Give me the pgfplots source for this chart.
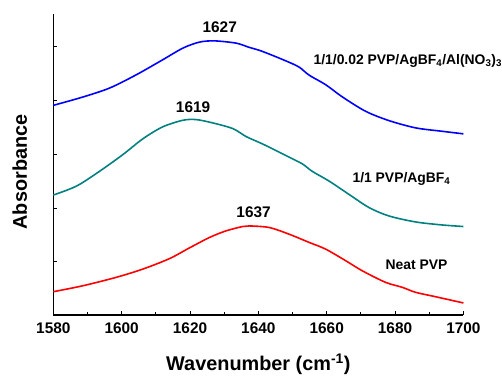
\documentclass[border=0pt]{standalone}
\usepackage{pgfplots}
\pgfplotsset{compat=1.18}
\usepackage{fontspec}
\setmainfont{Liberation Sans}
\definecolor{cblue}{RGB}{0,0,255}
\definecolor{cteal}{RGB}{0,128,128}
\definecolor{cred}{RGB}{255,0,0}
\begin{document}
\begin{tikzpicture}
\begin{axis}[
 scale only axis, width=411.5bp, height=302bp,
 xmin=1580, xmax=1700, ymin=0, ymax=302,
 axis x line*=bottom, axis y line*=left,
 axis line style={line width=1.2bp, black},
 xtick={1580,1600,...,1700}, minor x tick num=1,
 ytick={54,107,161,215,269}, yticklabels={},
 tick align=inside, major tick length=4bp, minor tick length=3bp,
 tick style={line width=1bp, black},
 /pgf/number format/assume math mode=true,
 /pgf/number format/1000 sep={},
 xticklabel style={font=\bfseries\fontsize{15.5}{18}\selectfont, yshift=-4bp},
 xlabel={\bfseries Wavenumber (cm\textsuperscript{-1})},
 xlabel style={font=\bfseries\fontsize{20}{24}\selectfont, at={(rel axis cs:0.5,0)}, anchor=base, yshift=-56bp},
 ylabel={\bfseries Absorbance},
 ylabel style={font=\bfseries\fontsize{20}{24}\selectfont, at={(rel axis cs:0,0.475)}, anchor=base, yshift=26.5bp},
 every axis plot/.append style={line width=1.6bp, smooth, tension=0.5},
 clip=false,
]
\addplot[cblue] coordinates {
(1580,210.3) (1588.7,218.7) (1596.5,227.7) (1604.3,241) (1612.0,256) (1617.9,267.7)
(1622.7,273.7) (1627.1,275) (1633.5,272.7) (1637.3,268.5) (1640.3,265.5) (1644.1,260.5)
(1649.0,253.5) (1652.0,248.5) (1654.9,240.5) (1659.7,231) (1664.6,218.7) (1671.4,204.3)
(1678.2,195) (1686.0,187.7) (1693.7,184.3) (1700,181.7)};
\addplot[cteal] coordinates {
(1580,120.3) (1586.8,129.3) (1593.6,144.3) (1600.4,161) (1606.2,176.7) (1612.0,188.7)
(1617.9,195.3) (1621.8,196) (1626.6,192.7) (1632.5,187) (1636.4,179) (1640.3,173)
(1643.2,168.3) (1649.0,158.3) (1652.9,151.5) (1655.8,144) (1660.7,134.3) (1666.5,121)
(1672.4,107.7) (1678.2,99.3) (1686.0,93.3) (1693.7,90.3) (1700,88.7)};
\addplot[cred] coordinates {
(1580,23.3) (1588.7,29.3) (1598.4,37.7) (1606.2,46) (1614.0,56.5) (1619.8,67.2)
(1625.7,77.7) (1630.5,84.3) (1635.4,88.7) (1637.4,89.3) (1643.2,87.7) (1649.0,81)
(1654.9,72.7) (1659.7,66) (1665.6,54.3) (1670.4,44.3) (1677.2,32.7) (1682.1,27.7)
(1686.0,22.7) (1691.8,18.3) (1700,12)};
\node[font=\bfseries\fontsize{15.5}{18}\selectfont, inner sep=0] at (axis cs:1628.7,288.5) {1627};
\node[font=\bfseries\fontsize{15.5}{18}\selectfont, inner sep=0] at (axis cs:1620.9,208.5) {1619};
\node[font=\bfseries\fontsize{15.5}{18}\selectfont, inner sep=0] at (axis cs:1638.6,103) {1637};
\node[font=\bfseries\fontsize{14}{17}\selectfont, inner sep=0, anchor=base west] at (axis cs:1656.1,251) {1/1/0.02 PVP/AgBF\textsubscript{4}/Al(NO\textsubscript{3})\textsubscript{3}};
\node[font=\bfseries\fontsize{14}{17}\selectfont, inner sep=0, anchor=base west] at (axis cs:1667.5,132.7) {1/1 PVP/AgBF\textsubscript{4}};
\node[font=\bfseries\fontsize{14}{17}\selectfont, inner sep=0] at (axis cs:1686.3,50.2) {Neat PVP};
\end{axis}
\path (current axis.south west) ++(-53.5bp,-61bp) rectangle ++(502bp,377bp);
\end{tikzpicture}
\end{document}
